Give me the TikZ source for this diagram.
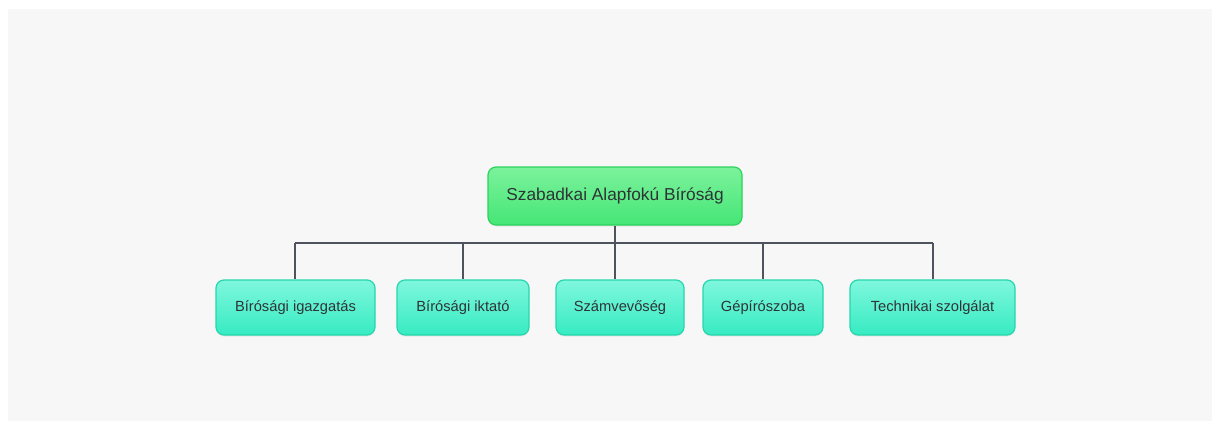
\documentclass[tikz,border=0pt]{standalone}
\usepackage{fontspec}
\setmainfont{Liberation Sans}
\usetikzlibrary{positioning,shadows}
\definecolor{bgpaper}{HTML}{F7F7F7}
\definecolor{rootfill}{HTML}{45E676}
\definecolor{roottop}{HTML}{7CF29C}
\definecolor{rootline}{HTML}{2DD35C}
\definecolor{unitfill}{HTML}{36EBC2}
\definecolor{unittop}{HTML}{7FF7DD}
\definecolor{unitline}{HTML}{27D6AC}
\definecolor{wire}{HTML}{4F535E}
\definecolor{txt}{HTML}{2E3436}
\tikzset{
  rootbox/.style={draw=rootline, line width=1.2pt, rounded corners=8pt,
    top color=roottop, bottom color=rootfill, text=txt,
    minimum width=254pt, minimum height=58pt, font=\fontsize{17.3}{19}\selectfont,
    drop shadow={opacity=0.12, shadow xshift=0pt, shadow yshift=-1.5pt}},
  unitbox/.style={draw=unitline, line width=1.2pt, rounded corners=8pt,
    top color=unittop, bottom color=unitfill, text=txt,
    minimum height=55pt, font=\fontsize{14.7}{16}\selectfont,
    drop shadow={opacity=0.12, shadow xshift=0pt, shadow yshift=-1.5pt}},
  wireline/.style={draw=wire, line width=2.8pt},
  dropline/.style={draw=wire, line width=1.6pt}
}
\begin{document}
\begin{tikzpicture}[x=1pt, y=-1pt]

  \fill[white] (0,0) rectangle (1218,423);
  \fill[bgpaper] (8,9) rectangle (1212,421);
  \useasboundingbox (0,0) rectangle (1218,423);

  \newcommand\Ybar{243};
  \newcommand\Ykid{307.5};

  \node[rootbox] (court) at (615,196) {Szabadkai Alapfokú Bíróság};

  \node[unitbox, minimum width=159pt] (admin) at (295.5,\Ykid) {Bírósági igazgatás};
  \node[unitbox, minimum width=132pt] (registry) at (463,\Ykid) {Bírósági iktató};
  \node[unitbox, minimum width=128pt] (accounts) at (620,\Ykid) {Számvevőség};
  \node[unitbox, minimum width=120pt] (typing) at (763,\Ykid) {Gépírószoba};
  \node[unitbox, minimum width=165pt] (tech) at (932.5,\Ykid) {Technikai szolgálat};

  \coordinate (busL) at (295,\Ybar);
  \coordinate (busR) at (933,\Ybar);
  \coordinate (busM) at (615,\Ybar);

  %% drops
  \draw[dropline] (busL) -- (busL |- admin.north);
  \draw[dropline] (registry.north |- busL) -- (registry.north);
  \draw[dropline] (busM) -- (busM |- accounts.north);
  \draw[dropline] (typing.north |- busL) -- (typing.north);
  \draw[dropline] (busR) -- (busR |- tech.north);

  \draw[wireline] (busL) -- (busR); %% bus
  \draw[wireline] (court.south) -- (busM);
  \draw[wireline] (busL) -- ++(0,10);
  \draw[wireline] (busR) -- ++(0,10);
\end{tikzpicture}
\end{document}
